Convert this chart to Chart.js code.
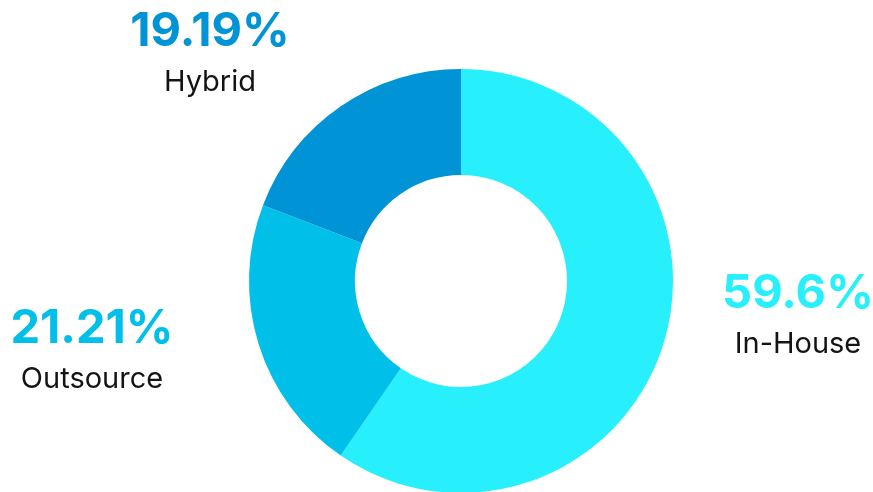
<!DOCTYPE html>
<html>
<head>
<meta charset="utf-8">
<script src="https://cdn.jsdelivr.net/npm/chart.js@4/dist/chart.umd.min.js"></script>
<style>
  html, body { margin: 0; padding: 0; background: #fff; overflow: hidden; }
  #wrap { position: relative; width: 873px; height: 493px; }
</style>
</head>
<body>
<div id="wrap"><canvas id="donut"></canvas></div>
<script>
const categories = ['In-House', 'Outsource', 'Hybrid'];
const shares = [59.6, 21.21, 19.19];
const shareLabels = ['59.6%', '21.21%', '19.19%'];
const colors = ['#27EFFC', '#00C0EA', '#0093D5'];

// where each label block sits (center x, baseline of the percentage)
const labelSpots = [
  { x: 798, y: 308 },
  { x: 92, y: 343 },
  { x: 210, y: 46 },
];

const outsideLabels = {
  id: 'outsideLabels',
  afterDraw(chart) {
    const c = chart.ctx;
    c.save();
    c.textAlign = 'center';
    c.textBaseline = 'alphabetic';
    categories.forEach((name, i) => {
      const p = labelSpots[i];
      c.fillStyle = colors[i];
      c.font = '700 47px Inter';
      c.fillText(shareLabels[i], p.x, p.y);
      c.fillStyle = '#141414';
      c.font = '400 29px Inter';
      c.fillText(name, p.x, p.y + 45);
    });
    c.restore();
  },
};

const ctx = document.getElementById('donut').getContext('2d');

new Chart(ctx, {
  type: 'doughnut',
  data: {
    labels: categories,
    datasets: [
      {
        data: shares,
        backgroundColor: colors,
        borderWidth: 0,
        hoverOffset: 0,
      },
    ],
  },
  options: {
    responsive: true,
    maintainAspectRatio: false,
    animation: false,
    cutout: '50%',
    layout: {
      padding: { left: 249, right: 200, top: 69, bottom: 0 },
    },
    plugins: {
      legend: { display: false },
      tooltip: { enabled: false },
    },
  },
  plugins: [outsideLabels],
});
</script>
</body>
</html>
